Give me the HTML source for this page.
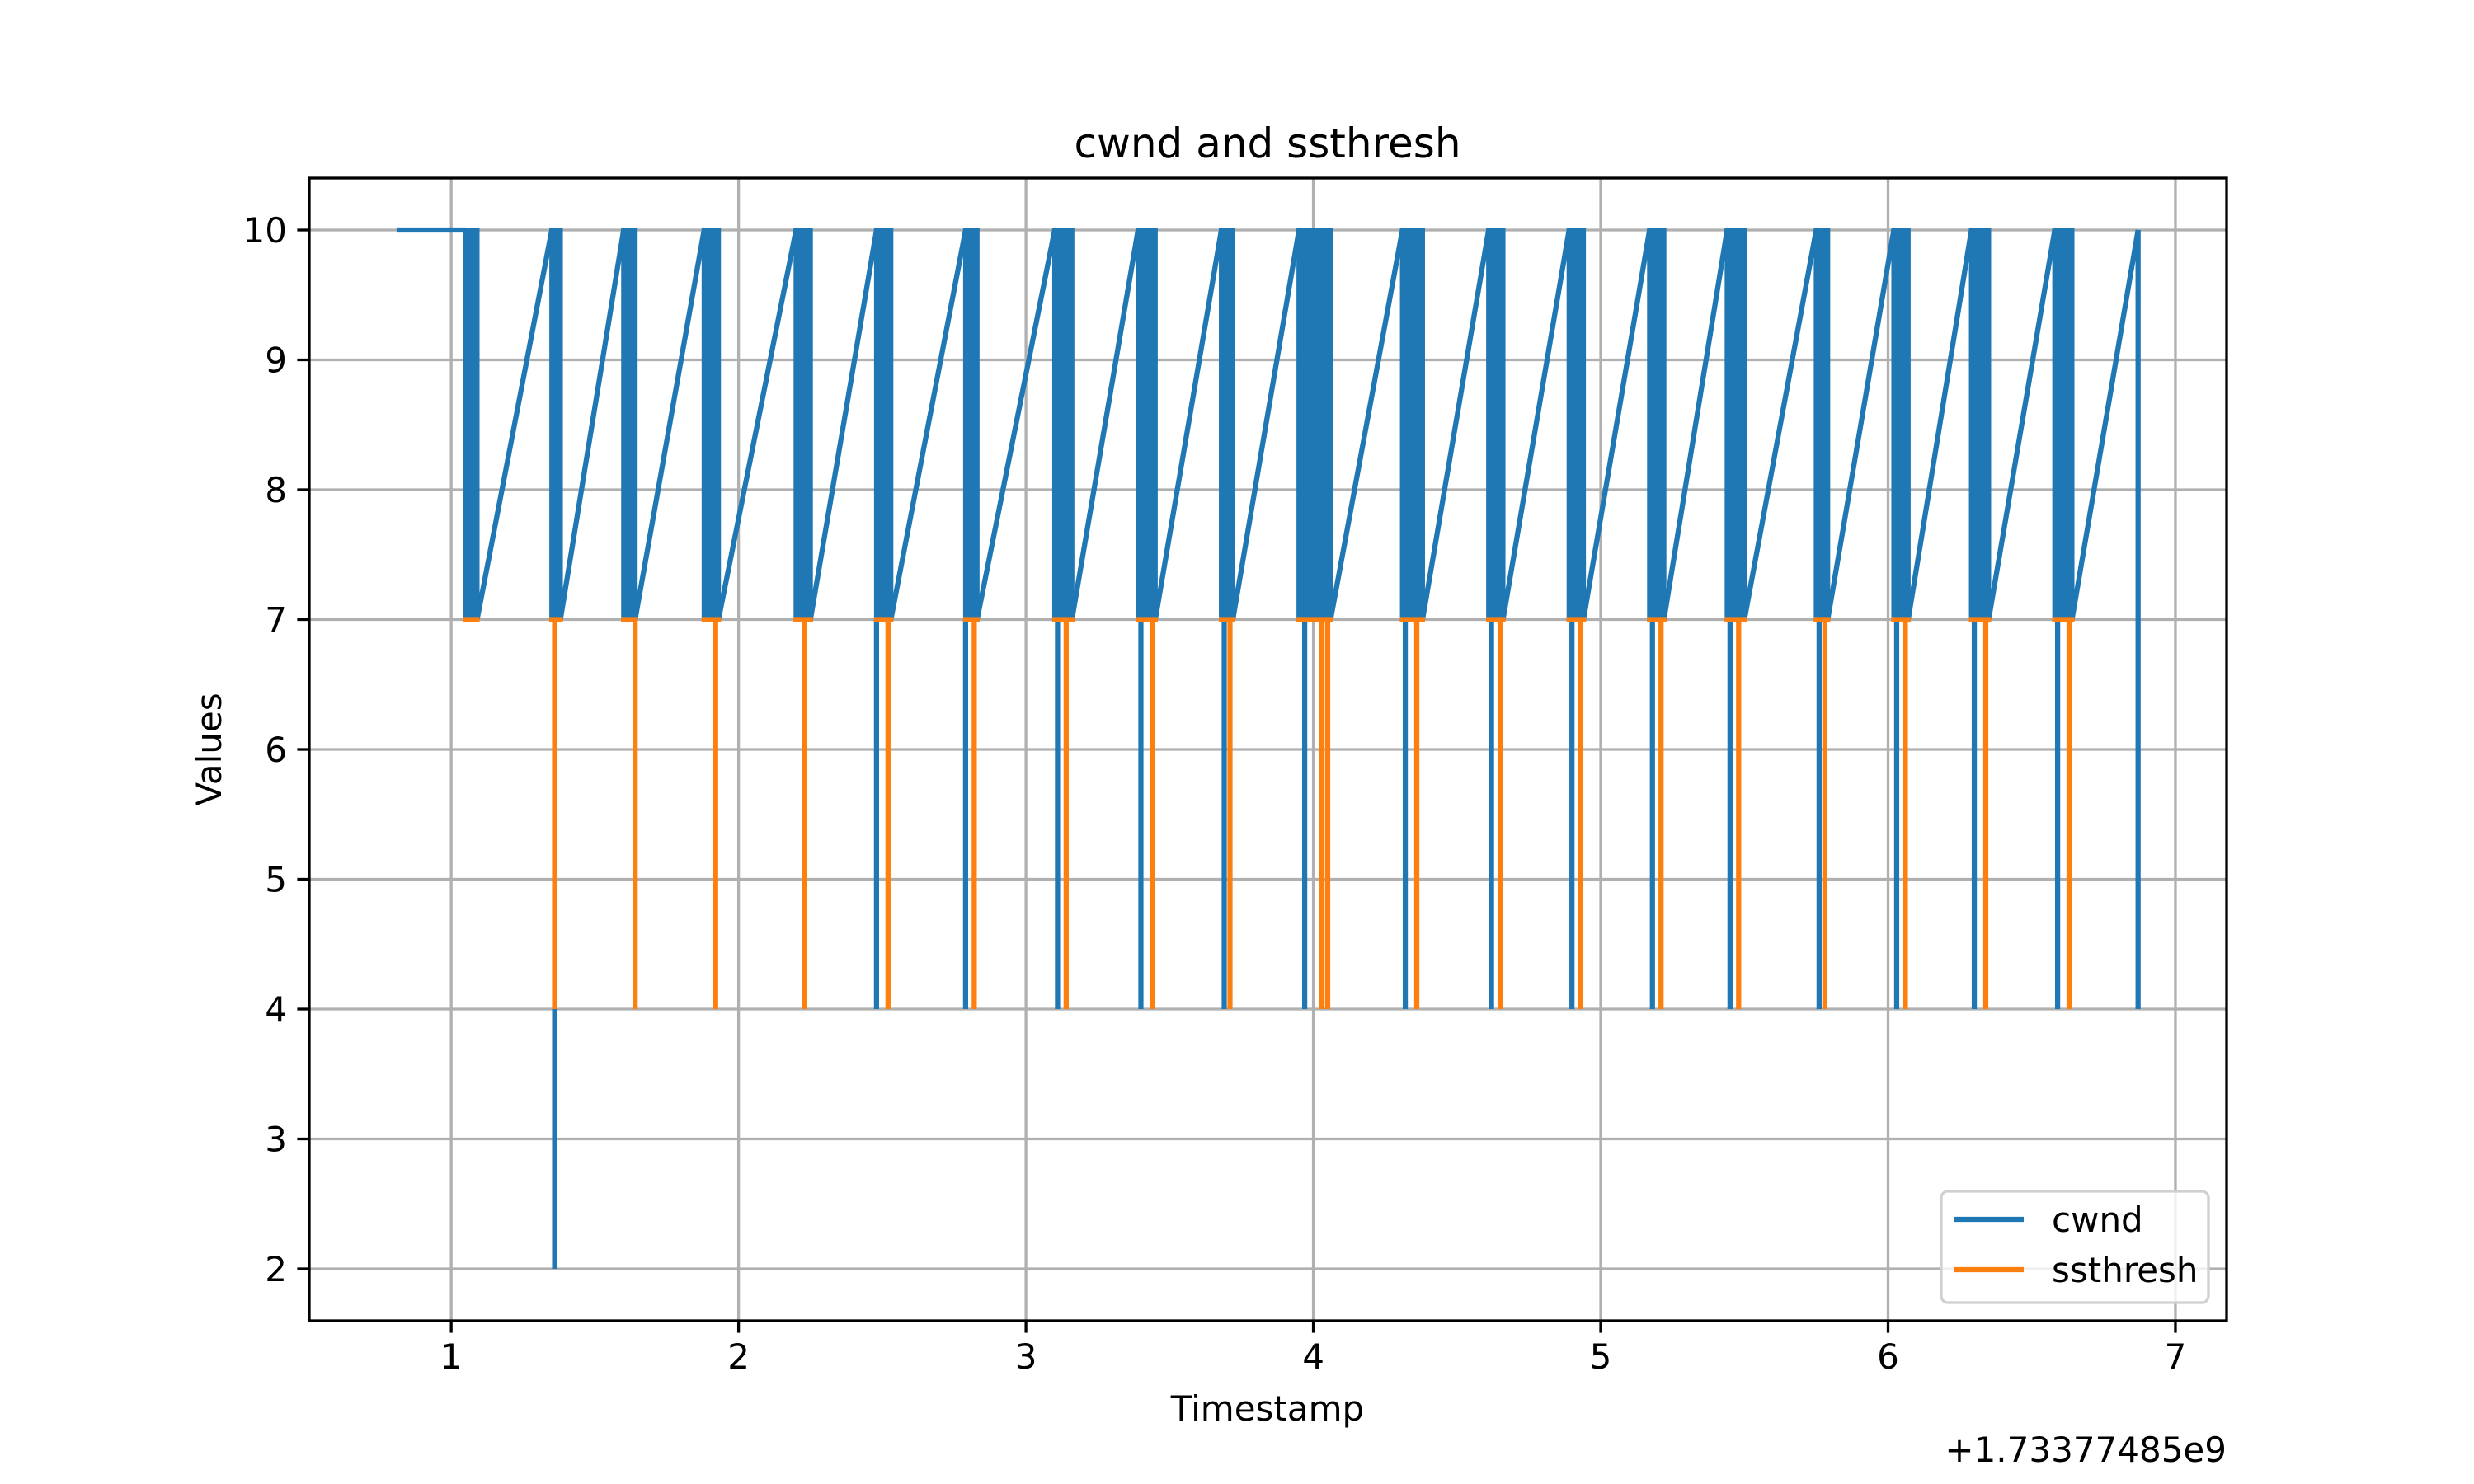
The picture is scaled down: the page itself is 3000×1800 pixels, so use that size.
<!DOCTYPE html>
<html><head><meta charset="utf-8"><style>
html,body{margin:0;padding:0;background:#fff}
svg{display:block}
text{font-family:"DejaVu Sans","Liberation Sans",sans-serif;fill:#000}
</style></head><body>
<svg id="chart" width="3000" height="1800" viewBox="0 0 3000 1800" xmlns="http://www.w3.org/2000/svg">
<rect width="3000" height="1800" fill="#fff"/>
<g id="grid"></g>
<g id="series"></g>
<g id="axes"></g>
<text x="1537" y="191" font-size="50" text-anchor="middle">cwnd and ssthresh</text>
<text x="1537" y="1723" font-size="42" text-anchor="middle">Timestamp</text>
<text x="2700" y="1773" font-size="42" text-anchor="end">+1.73377485e9</text>
<text x="268" y="909" font-size="42" text-anchor="middle" transform="rotate(-90 268 909)">Values</text>
<g>
<rect x="2354" y="1445" width="324" height="135" rx="8" fill="#fff" fill-opacity="0.8" stroke="#d0d0d0" stroke-width="3.3"/>
<line x1="2370" y1="1479" x2="2454" y2="1479" stroke="#1f77b4" stroke-width="6.25"/>
<text x="2488" y="1494" font-size="42">cwnd</text>
<line x1="2370" y1="1540" x2="2454" y2="1540" stroke="#ff7f0e" stroke-width="6.25"/>
<text x="2488" y="1555" font-size="42">ssthresh</text>
</g>
</svg>
<script>
const xTicks = [1,2,3,4,5,6,7];
const yTicks = [2,3,4,5,6,7,8,9,10];
const startTime = 0.81;
const clusterStart = [1.05,1.35,1.60,1.88,2.20,2.48,2.79,3.10,3.39,3.68,3.95,4.31,4.61,4.89,5.17,5.44,5.75,6.02,6.29,6.58];
const clusterEnd   = [1.09,1.38,1.64,1.93,2.25,2.53,2.83,3.16,3.45,3.72,4.06,4.38,4.66,4.94,5.22,5.50,5.79,6.07,6.35,6.64];
const finalTime = 6.87;
const cwndHigh = 10, cwndLow = 7;
const cwndDropTimes  = [1.36,2.48,2.79,3.11,3.40,3.69,3.97,4.32,4.62,4.90,5.18,5.45,5.76,6.03,6.30,6.59,6.87];
const cwndDropValues = [2,4,4,4,4,4,4,4,4,4,4,4,4,4,4,4,4];
const ssDropTimes = [1.36,1.64,1.92,2.23,2.52,2.82,3.14,3.44,3.71,4.03,4.05,4.36,4.65,4.93,5.21,5.48,5.78,6.06,6.34,6.63];
const ssDropValues = [4,4,4,4,4,4,4,4,4,4,4,4,4,4,4,4,4,4,4,4];
const ssValue = 7;

const L=375,R=2700,T=216,B=1602;
const xMin=0.506,xMax=7.178,yMin=1.6,yMax=10.4;
const X=v=>L+(v-xMin)/(xMax-xMin)*(R-L);
const Y=v=>B-(v-yMin)/(yMax-yMin)*(B-T);
const NS='http://www.w3.org/2000/svg';
function mk(tag,attrs,parent){const e=document.createElementNS(NS,tag);for(const k in attrs)e.setAttribute(k,attrs[k]);parent.appendChild(e);return e;}
const grid=document.getElementById('grid'),series=document.getElementById('series'),axes=document.getElementById('axes');

xTicks.forEach(t=>{
  const g=mk('line',{x1:X(t),x2:X(t),y1:T,y2:B,stroke:'#b0b0b0','stroke-width':3.3},grid);
  
  
  const tk=mk('line',{x1:X(t),x2:X(t),y1:B,y2:B+14.6,stroke:'#000','stroke-width':3.3},axes);
  
  
  const lb=mk('text',{x:X(t),y:B+58,'font-size':42,'text-anchor':'middle'},axes);
  lb.textContent=t;
  
  
});
yTicks.forEach(t=>{
  const g=mk('line',{x1:L,x2:R,y1:Y(t),y2:Y(t),stroke:'#b0b0b0','stroke-width':3.3},grid);
  
  
  const tk=mk('line',{x1:L-14.6,x2:L,y1:Y(t),y2:Y(t),stroke:'#000','stroke-width':3.3},axes);
  
  
  const lb=mk('text',{x:L-27,y:Y(t)+15,'font-size':42,'text-anchor':'end'},axes);
  lb.textContent=t;
  
  
});
const frame=mk('rect',{x:L,y:T,width:R-L,height:B-T,fill:'none',stroke:'#000','stroke-width':3.3},axes);



// cwnd line path
let d=`M${X(startTime)},${Y(cwndHigh)} L${X(clusterStart[0])},${Y(cwndHigh)}`;
for(let i=0;i<clusterStart.length;i++){
  d+=` L${X(clusterEnd[i])},${Y(cwndLow)}`;
  const next=i+1<clusterStart.length?clusterStart[i+1]:finalTime;
  d+=` L${X(next)},${Y(cwndHigh)}`;
}
const cw=mk('path',{d:d,fill:'none',stroke:'#1f77b4','stroke-width':6.25,'stroke-linejoin':'round'},series);


clusterStart.forEach((s,i)=>{
  const r=mk('rect',{x:X(s)-3,y:Y(cwndHigh)-3,width:X(clusterEnd[i])-X(s)+6,height:Y(cwndLow)-Y(cwndHigh)+6,fill:'#1f77b4'},series);
  
  
});
cwndDropTimes.forEach((t,i)=>{
  const l=mk('line',{x1:X(t),x2:X(t),y1:Y(cwndLow),y2:Y(cwndDropValues[i]),stroke:'#1f77b4','stroke-width':6.25},series);
  
  
});
const fl=mk('line',{x1:X(finalTime),x2:X(finalTime),y1:Y(cwndHigh),y2:Y(cwndLow),stroke:'#1f77b4','stroke-width':6.25},series);


// ssthresh
clusterStart.forEach((s,i)=>{
  const l=mk('line',{x1:X(s)-3,x2:X(clusterEnd[i])+3,y1:Y(ssValue),y2:Y(ssValue),stroke:'#ff7f0e','stroke-width':6.25},series);
  
  
});
ssDropTimes.forEach((t,i)=>{
  const l=mk('line',{x1:X(t),x2:X(t),y1:Y(ssValue),y2:Y(ssDropValues[i]),stroke:'#ff7f0e','stroke-width':6.25},series);
  
  
});
</script>
</body></html>
